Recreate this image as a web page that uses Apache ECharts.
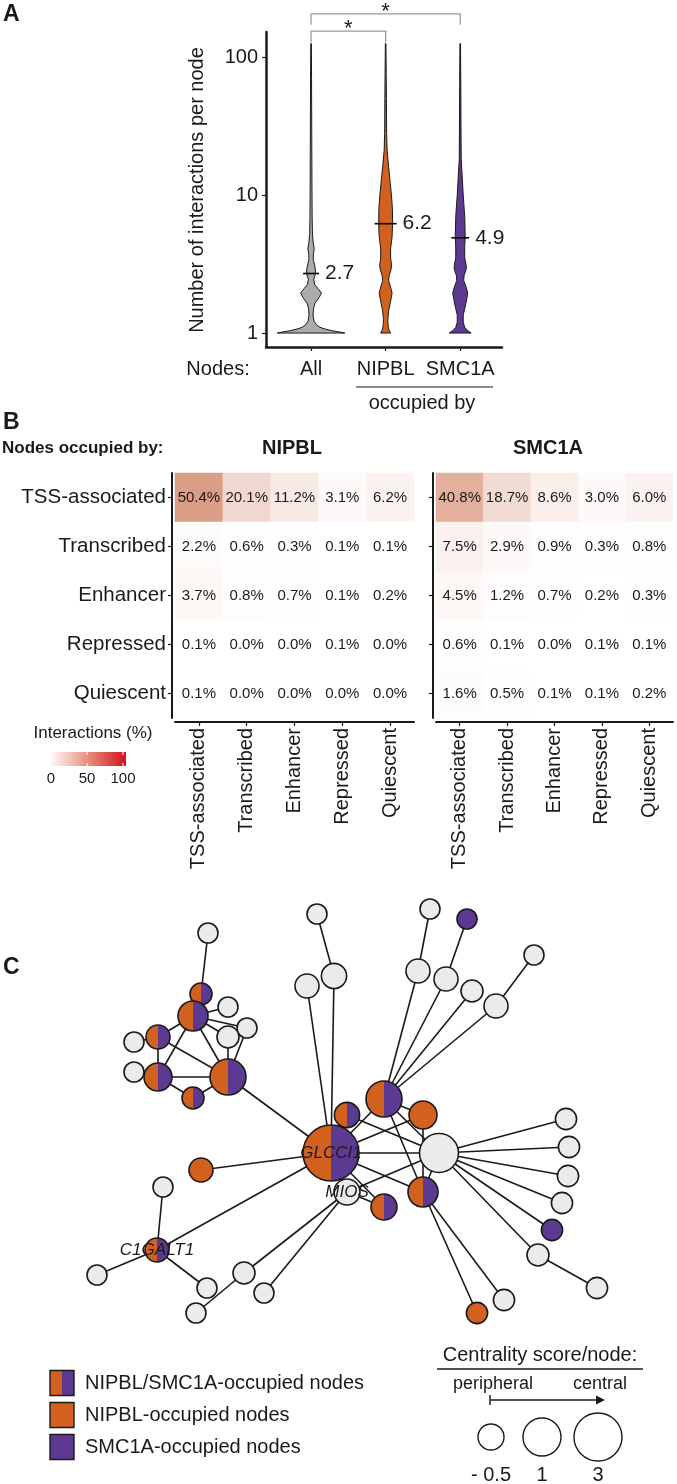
<!DOCTYPE html>
<html><head><meta charset="utf-8">
<script src="https://cdn.jsdelivr.net/npm/echarts@6/dist/echarts.min.js"></script>
<style>html,body{margin:0;padding:0;background:#fff}#c{width:677px;height:1484px}</style>
</head><body><div id="c"></div>
<script>
const FONT = '"Liberation Sans", Arial, Helvetica, sans-serif';
const INK = '#1a1a1a';

// ---------------- Panel A data ----------------
const violinGroups = ['All', 'NIPBL', 'SMC1A'];
const violinMedians = [2.7, 6.2, 4.9];
// [interactions per node, density (half-width units)]
const densityAll = [[1.0,34],[1.02,28],[1.04,21],[1.07,14],[1.1,9],[1.15,5.5],[1.22,3],[1.35,2],[1.5,2.5],[1.65,4],[1.8,8],[1.95,10.5],[2.1,7],[2.25,3.5],[2.45,2.8],[2.65,4.2],[2.85,4.5],[3.1,3.5],[3.4,2.2],[3.7,2.3],[4.1,3.2],[4.5,2.2],[5.2,1.4],[7,1.1],[12,0.9],[30,0.7],[70,0.5],[125,0.3]];
const densityNIPBL = [[1.0,5],[1.05,3.5],[1.12,2.5],[1.25,2.2],[1.45,3],[1.7,5],[1.95,6.5],[2.15,5],[2.4,3],[2.6,3.5],[2.9,5.5],[3.1,6],[3.5,5],[4.1,5],[5,6.5],[6.3,7],[8,6.8],[10,5.8],[12.5,4.5],[16,3],[21,1.5],[28,1],[50,0.8],[125,0.3]];
const densitySMC1A = [[1.0,11],[1.05,7],[1.1,4.5],[1.2,3],[1.35,3],[1.5,4.5],[1.75,6.5],[1.95,7.5],[2.15,6],[2.4,3.5],[2.6,3.8],[2.9,6],[3.1,6],[3.5,4.5],[4.2,4.5],[5,5],[7,4.5],[10,3],[13.5,2],[18,1],[28,0.8],[60,0.6],[125,0.3]];
const yTickValues = [1, 10, 100];
// significance brackets: [from group, to group, bracket level, drop level]
const sigBrackets = [[1, 2, 154, 128], [1, 3, 205, 171]];
const sigLabels = ['*', '*'];

// ---------------- Panel B data ----------------
const stateCategories = ['TSS-associated', 'Transcribed', 'Enhancer', 'Repressed', 'Quiescent'];
const nipblMatrix = [
  [50.4, 20.1, 11.2, 3.1, 6.2],
  [2.2, 0.6, 0.3, 0.1, 0.1],
  [3.7, 0.8, 0.7, 0.1, 0.2],
  [0.1, 0.0, 0.0, 0.1, 0.0],
  [0.1, 0.0, 0.0, 0.0, 0.0]
];
const smc1aMatrix = [
  [40.8, 18.7, 8.6, 3.0, 6.0],
  [7.5, 2.9, 0.9, 0.3, 0.8],
  [4.5, 1.2, 0.7, 0.2, 0.3],
  [0.6, 0.1, 0.0, 0.1, 0.1],
  [1.6, 0.5, 0.1, 0.1, 0.2]
];
const legendTicks = [0, 50, 100];

// ---------------- Panel C data ----------------
const nodeLabels = ['GLCCI1','MIOS','','','','','','','','','','','','','','','C1GALT1','','','','','','','','','','','','','','','','','','','','','','','','','','','','','',''];
const nodeLayoutX = [0,1.6,10.8,1.6,5.3,9.2,9.2,5.3,23.5,23.8,23.7,23.1,22.1,20.7,26.6,-13.0,-17.4,-16.8,-23.4,-12.4,-8.7,-6.7,-13.5,-12.3,-13.0,-13.8,-10.3,-8.4,-10.3,-17.3,-19.7,-19.7,-17.3,-10.3,-13.8,-1.4,0.3,-2.4,9.9,13.6,8.7,11.5,14.1,16.5,20.3,14.6,17.3];
const nodeLayoutY = [0,-3.9,0,3.8,5.4,3.8,-3.9,-5.4,3.4,0.6,-2.3,-5.0,-7.7,-10.2,-13.5,-1.7,-9.7,-3.4,-12.2,-13.5,-12.0,-14.0,-16.0,22.0,15.9,13.7,14.6,12.5,11.6,11.6,11.1,8.1,7.6,7.6,5.5,23.9,17.7,16.7,24.4,23.4,18.2,17.4,16.2,14.7,19.8,-16.0,-14.7];
const nodeCentrality = [4.6,-0.5,1.2,-0.6,0.75,-0.25,0,-0.5,-1.1,-1.1,-1.1,-1.1,-1.1,-1.0,-1.1,-0.75,-0.75,-1.25,-1.25,-1.25,-1.0,-1.25,-1.25,-1.25,-1.0,0,-1.25,-1.25,-1.0,-0.75,-1.25,-1.25,-0.25,0.75,-1.0,-1.25,-0.6,-0.75,-1.25,-1.25,-0.75,-0.75,-1.0,-0.75,-1.25,-1.1,-1.1];
// b = NIPBL+SMC1A, n = NIPBL only, s = SMC1A only, o = neither
const nodeOccupancy = ['b','o','o','b','b','n','b','b','o','o','o','o','s','o','o','n','b','o','o','o','o','o','o','o','b','b','o','o','o','b','o','o','b','b','b','o','o','o','o','s','o','o','o','o','o','n','o'];
const edgeList = [
  [0,1],[0,2],[0,3],[0,4],[0,5],[0,6],[0,7],[0,15],[0,16],[0,33],[0,36],[0,37],
  [1,2],[1,7],[1,20],[1,21],
  [3,2],
  [4,5],[4,2],[4,6],[4,40],[4,41],[4,42],[4,43],
  [5,6],
  [6,2],[6,45],[6,46],
  [2,8],[2,9],[2,10],[2,11],[2,12],[2,13],
  [13,14],
  [16,17],[16,18],[16,19],
  [20,22],[35,36],[38,40],[39,41],[44,43],
  [23,24],[24,25],
  [25,26],[25,27],[25,28],[25,29],[25,32],[25,33],
  [29,30],[29,32],[29,33],
  [32,31],[32,33],[32,34],
  [34,33],[33,28],[33,27]
];
const centralityLegendValues = [-0.5, 1, 3];
const occupancyLegend = [['b', 'NIPBL/SMC1A-occupied nodes'], ['n', 'NIPBL-occupied nodes'], ['s', 'SMC1A-occupied nodes']];

// ---------------- styles ----------------
const COL_GRAY_V = '#ABABAB';
const COL_ORANGE = '#D2601E';
const COL_PURPLE = '#5D3A91';
const COL_NODE = '#EBEBEB';
const violinColors = [COL_GRAY_V, COL_ORANGE, COL_PURPLE];
const violinDensities = [densityAll, densityNIPBL, densitySMC1A];
const medianHalf = [8, 11, 9];
const heatColors = ['#FFFFFF', '#DC9E87', '#C81515'];

function sizeScale(c) { return c < 1 ? 13 + (c + 0.5) * 4 : 19 + (c - 1) * 2.5; }
const lg = Math.log10;

const chart = echarts.init(document.getElementById('c'), null, {renderer: 'canvas', width: 677, height: 1484});

function renderViolin(params, api) {
  const i = params.dataIndex;
  const dens = violinDensities[i];
  const cx = api.coord([i + 1, 0])[0];
  const k = api.size([1, 0])[0] / 75;
  const right = dens.map(d => [cx + d[1] * k, api.coord([i + 1, lg(d[0])])[1]]);
  const left = dens.slice().reverse().map(d => [cx - d[1] * k, api.coord([i + 1, lg(d[0])])[1]]);
  const my = api.coord([i + 1, lg(violinMedians[i])])[1];
  const mh = medianHalf[i] * k;
  return {type: 'group', children: [
    {type: 'polygon', shape: {points: right.concat(left)}, style: {fill: violinColors[i], stroke: INK, lineWidth: 1}},
    {type: 'line', shape: {x1: cx - mh, y1: my, x2: cx + mh, y2: my}, style: {stroke: '#000', lineWidth: 1.6}},
    {type: 'text', x: cx + mh + 6, y: my, style: {text: violinMedians[i].toFixed(1), fontSize: 21, fontFamily: FONT, fill: INK, align: 'left', verticalAlign: 'middle'}}
  ]};
}

function renderBracket(params, api) {
  const b = sigBrackets[params.dataIndex];
  const x1 = api.coord([b[0], 0])[0], x2 = api.coord([b[1], 0])[0];
  const yl = api.coord([1, lg(b[2])])[1], yd = api.coord([1, lg(b[3])])[1];
  return {type: 'group', children: [
    {type: 'polyline', shape: {points: [[x1, yd], [x1, yl], [x2, yl], [x2, yd]]}, style: {stroke: '#9a9a9a', lineWidth: 1.3, fill: null}},
    {type: 'text', x: (x1 + x2) / 2, y: yl - 2, style: {text: sigLabels[params.dataIndex], fontSize: 22, fontFamily: FONT, fill: INK, align: 'center', verticalAlign: 'middle'}}
  ]};
}

function renderEdge(params, api) {
  const e = edgeList[params.dataIndex];
  const a = api.coord([nodeLayoutX[e[0]], nodeLayoutY[e[0]]]);
  const b = api.coord([nodeLayoutX[e[1]], nodeLayoutY[e[1]]]);
  return {type: 'line', shape: {x1: a[0], y1: a[1], x2: b[0], y2: b[1]}, style: {stroke: INK, lineWidth: 1.6}};
}

function renderNode(params, api) {
  const i = params.dataIndex;
  const p = api.coord([nodeLayoutX[i], nodeLayoutY[i]]);
  const r = sizeScale(nodeCentrality[i]);
  const occ = nodeOccupancy[i];
  const children = [];
  if (occ === 'b') {
    children.push({type: 'sector', shape: {cx: p[0], cy: p[1], r0: 0, r: r, startAngle: Math.PI / 2, endAngle: Math.PI * 1.5, clockwise: true}, style: {fill: COL_ORANGE}});
    children.push({type: 'sector', shape: {cx: p[0], cy: p[1], r0: 0, r: r, startAngle: -Math.PI / 2, endAngle: Math.PI / 2, clockwise: true}, style: {fill: COL_PURPLE}});
    children.push({type: 'circle', shape: {cx: p[0], cy: p[1], r: r}, style: {fill: null, stroke: INK, lineWidth: 1.6}});
  } else {
    const fill = occ === 'n' ? COL_ORANGE : occ === 's' ? COL_PURPLE : COL_NODE;
    children.push({type: 'circle', shape: {cx: p[0], cy: p[1], r: r}, style: {fill: fill, stroke: INK, lineWidth: 1.6}});
  }
  if (nodeLabels[i]) {
    children.push({type: 'text', x: p[0], y: p[1], style: {text: nodeLabels[i], fontSize: 17, fontStyle: 'italic', fontFamily: FONT, fill: INK, align: 'center', verticalAlign: 'middle'}});
  }
  return {type: 'group', children: children};
}

function heatData(m) {
  const out = [];
  m.forEach((row, yi) => row.forEach((v, xi) => out.push([xi, yi, v])));
  return out;
}

function txt(text, x, y, size, opts) {
  opts = opts || {};
  return {type: 'text', x: x, y: y, rotation: opts.rotation || 0, style: {text: text, fontSize: size, fontFamily: FONT, fontWeight: opts.weight || 'normal', fontStyle: opts.style || 'normal', fill: INK, align: opts.align || 'left', verticalAlign: 'middle'}};
}

function heatAxis(extra) {
  return Object.assign({
    axisLine: {show: true, onZero: false, lineStyle: {color: INK, width: 2}},
    axisTick: {show: true, length: 4, alignWithLabel: true, lineStyle: {color: INK, width: 1.2}},
    splitLine: {show: false}
  }, extra);
}

// legend colour bar geometry
const barX0 = 49, barX1 = 126, barY0 = 752, barY1 = 766, bar0 = 51, bar100 = 123;

const graphics = [
  txt('A', 3, 15, 23, {weight: 'bold'}),
  txt('B', 3, 423, 23, {weight: 'bold'}),
  txt('C', 3, 968, 23, {weight: 'bold'}),
  txt('Number of interactions per node', 197, 190, 20, {align: 'center', rotation: Math.PI / 2}),
  txt('Nodes:', 218, 369, 20, {align: 'center'}),
  {type: 'line', shape: {x1: 356, y1: 387, x2: 493, y2: 387}, style: {stroke: INK, lineWidth: 1.2}},
  txt('occupied by', 422, 403, 20, {align: 'center'}),
  txt('Nodes occupied by:', 2, 448, 17, {weight: 'bold'}),
  txt('NIPBL', 292, 448, 20, {weight: 'bold', align: 'center'}),
  txt('SMC1A', 548, 448, 20, {weight: 'bold', align: 'center'}),
  txt('Interactions (%)', 93, 733, 17, {align: 'center'}),
  {type: 'rect', shape: {x: barX0, y: barY0, width: barX1 - barX0, height: barY1 - barY0},
   style: {fill: new echarts.graphic.LinearGradient(0, 0, 1, 0, [{offset: 0, color: '#FFFFFF'}, {offset: 0.5, color: '#E8907E'}, {offset: 1, color: '#D0121B'}])}}
];
legendTicks.forEach(t => {
  const x = bar0 + (bar100 - bar0) * t / 100;
  graphics.push({type: 'line', shape: {x1: x, y1: barY0, x2: x, y2: barY0 + 3}, style: {stroke: '#fff', lineWidth: 1}});
  graphics.push({type: 'line', shape: {x1: x, y1: barY1 - 3, x2: x, y2: barY1}, style: {stroke: '#fff', lineWidth: 1}});
  graphics.push(txt(String(t), x, 779, 15, {align: 'center'}));
});
// occupancy legend
occupancyLegend.forEach((item, i) => {
  const cy = 1383 + i * 32, x = 50, w = 24, h = 25;
  if (item[0] === 'b') {
    graphics.push({type: 'rect', shape: {x: x, y: cy - h / 2, width: w / 2, height: h}, style: {fill: COL_ORANGE}});
    graphics.push({type: 'rect', shape: {x: x + w / 2, y: cy - h / 2, width: w / 2, height: h}, style: {fill: COL_PURPLE}});
    graphics.push({type: 'rect', shape: {x: x, y: cy - h / 2, width: w, height: h}, style: {fill: null, stroke: INK, lineWidth: 1.4}});
  } else {
    graphics.push({type: 'rect', shape: {x: x, y: cy - h / 2, width: w, height: h}, style: {fill: item[0] === 'n' ? COL_ORANGE : COL_PURPLE, stroke: INK, lineWidth: 1.4}});
  }
  graphics.push(txt(item[1], 85, cy, 20));
});
// centrality legend
graphics.push(txt('Centrality score/node:', 540, 1355, 20, {align: 'center'}));
graphics.push({type: 'line', shape: {x1: 437, y1: 1369, x2: 643, y2: 1369}, style: {stroke: INK, lineWidth: 1.4}});
graphics.push(txt('peripheral', 493, 1384, 18, {align: 'center'}));
graphics.push(txt('central', 600, 1384, 18, {align: 'center'}));
graphics.push({type: 'line', shape: {x1: 490, y1: 1400, x2: 598, y2: 1400}, style: {stroke: INK, lineWidth: 1.4}});
graphics.push({type: 'line', shape: {x1: 490, y1: 1395, x2: 490, y2: 1405}, style: {stroke: INK, lineWidth: 1.4}});
graphics.push({type: 'polygon', shape: {points: [[605, 1400], [596, 1395.5], [596, 1404.5]]}, style: {fill: INK}});
const legendCircleX = [491, 542, 598];
centralityLegendValues.forEach((c, i) => {
  graphics.push({type: 'circle', shape: {cx: legendCircleX[i], cy: 1437, r: sizeScale(c)}, style: {fill: '#fff', stroke: INK, lineWidth: 1.4}});
  graphics.push(txt(c < 0 ? '- ' + Math.abs(c) : String(c), legendCircleX[i], 1475, 20, {align: 'center'}));
});

const option = {
  animation: false,
  backgroundColor: '#fff',
  textStyle: {fontFamily: FONT, color: INK},
  grid: [
    {left: 266, top: 32, width: 236, height: 315, outerBoundsMode: 'none', containLabel: false},
    {left: 175, top: 473, width: 239, height: 245, outerBoundsMode: 'none', containLabel: false},
    {left: 436, top: 473, width: 237, height: 245, outerBoundsMode: 'none', containLabel: false},
    {left: 0, top: 880, width: 677, height: 460, outerBoundsMode: 'none', containLabel: false}
  ],
  xAxis: [
    {type: 'value', gridIndex: 0, min: 0.396, max: 3.56,
     axisLine: {show: true, onZero: false, lineStyle: {color: INK, width: 2.5}},
     axisTick: {show: true, length: 4, customValues: [1, 2, 3], lineStyle: {color: INK, width: 1.2}},
     axisLabel: {show: true, customValues: [1, 2, 3], formatter: v => violinGroups[Math.round(v) - 1], fontSize: 20, color: INK, margin: 12},
     splitLine: {show: false}},
    heatAxis({type: 'category', gridIndex: 1, data: stateCategories, offset: 4, axisLabel: {rotate: 90, fontSize: 20, color: INK, margin: 6, interval: 0}}),
    heatAxis({type: 'category', gridIndex: 2, data: stateCategories, offset: 4, axisLabel: {rotate: 90, fontSize: 20, color: INK, margin: 6, interval: 0}}),
    {type: 'value', gridIndex: 3, min: -33.1, max: 34.6, show: false}
  ],
  yAxis: [
    {type: 'value', gridIndex: 0, min: -0.101, max: 2.181,
     axisLine: {show: true, onZero: false, lineStyle: {color: INK, width: 2.5}},
     axisTick: {show: true, length: 4, customValues: yTickValues.map(lg), lineStyle: {color: INK, width: 1.2}},
     axisLabel: {show: true, customValues: yTickValues.map(lg), formatter: v => String(Math.round(Math.pow(10, v))), fontSize: 20, color: INK, margin: 8},
     splitLine: {show: false}},
    heatAxis({type: 'category', gridIndex: 1, data: stateCategories, inverse: true, offset: 3, axisLabel: {fontSize: 20.5, color: INK, margin: 6, interval: 0}}),
    heatAxis({type: 'category', gridIndex: 2, data: stateCategories, inverse: true, offset: 3, axisLabel: {show: false}}),
    {type: 'value', gridIndex: 3, min: -18.7, max: 27.3, show: false}
  ],
  visualMap: {type: 'continuous', show: false, min: 0, max: 100, seriesIndex: [2, 3], inRange: {color: heatColors}},
  series: [
    {type: 'custom', xAxisIndex: 0, yAxisIndex: 0, clip: false, renderItem: renderBracket,
     data: sigBrackets.map(b => [b[0], lg(b[2])]), silent: true, z: 3},
    {type: 'custom', xAxisIndex: 0, yAxisIndex: 0, clip: false, renderItem: renderViolin,
     data: violinMedians.map((m, i) => [i + 1, lg(m)]), silent: true, z: 2},
    {type: 'heatmap', xAxisIndex: 1, yAxisIndex: 1, data: heatData(nipblMatrix), silent: true,
     label: {show: true, formatter: p => p.value[2].toFixed(1) + '%', fontSize: 15, color: INK, fontFamily: FONT}},
    {type: 'heatmap', xAxisIndex: 2, yAxisIndex: 2, data: heatData(smc1aMatrix), silent: true,
     label: {show: true, formatter: p => p.value[2].toFixed(1) + '%', fontSize: 15, color: INK, fontFamily: FONT}},
    {type: 'custom', xAxisIndex: 3, yAxisIndex: 3, clip: false, renderItem: renderEdge, silent: true, z: 2,
     encode: {x: [0, 2], y: [1, 3]},
     data: edgeList.map(e => [nodeLayoutX[e[0]], nodeLayoutY[e[0]], nodeLayoutX[e[1]], nodeLayoutY[e[1]]])},
    {type: 'custom', xAxisIndex: 3, yAxisIndex: 3, clip: false, renderItem: renderNode, silent: true, z: 3,
     data: nodeLayoutX.map((x, i) => [x, nodeLayoutY[i], nodeCentrality[i]])}
  ],
  graphic: graphics
};
chart.setOption(option);
</script></body></html>
